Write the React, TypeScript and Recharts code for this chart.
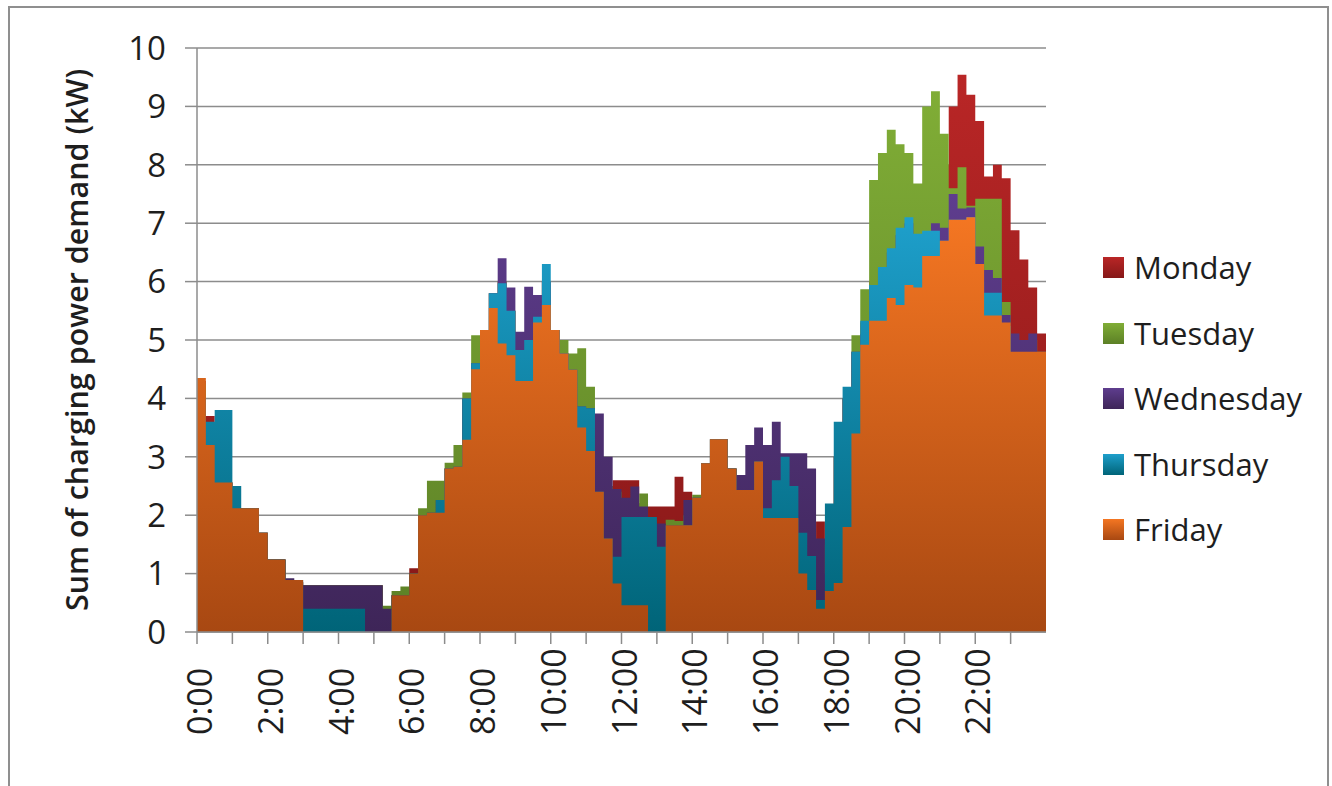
import React from 'react';
import { AreaChart, Area, XAxis, YAxis, CartesianGrid, Legend } from 'recharts';

// 15-minute slots of the day (hours)
const SLOT_HOURS: number[] = Array.from({ length: 96 }, (_, i) => i / 4);

const X_TICK_HOURS = [0, 1, 2, 3, 4, 5, 6, 7, 8, 9, 10, 11, 12, 13, 14, 15, 16, 17, 18, 19, 20, 21, 22, 23];
const X_TICK_LABELS = ['0:00', '2:00', '4:00', '6:00', '8:00', '10:00', '12:00', '14:00', '16:00', '18:00', '20:00', '22:00'];
const Y_TICKS = [0, 1, 2, 3, 4, 5, 6, 7, 8, 9, 10];
const Y_TITLE = 'Sum of charging power demand (kW)';

const MONDAY = [
  4.3, 3.7, 2.56, 2.56, 2.12, 2.12, 2.12, 1.7,
  1.24, 1.24, 0.89, 0.85, 0.8, 0.8, 0.8, 0.8,
  0.8, 0.8, 0.8, 0.8, 0.8, 0.4, 0.63, 0.7,
  1.09, 2.0, 2.04, 2.26, 2.8, 2.83, 4.0, 4.6,
  5.17, 5.8, 6.0, 5.5, 4.8, 5.0, 5.4, 6.0,
  5.17, 4.77, 4.6, 3.86, 3.83, 3.0, 2.5, 2.6,
  2.6, 2.6, 2.2, 2.15, 2.15, 2.15, 2.66, 2.4,
  2.3, 2.89, 3.3, 3.3, 2.8, 2.5, 2.6, 3.0,
  2.5, 2.6, 2.8, 2.5, 2.0, 1.5, 1.89, 1.0,
  3.0, 4.0, 4.8, 5.3, 6.0, 6.5, 7.0, 7.0,
  7.0, 7.0, 7.5, 8.0, 8.0, 9.0, 9.54, 9.2,
  8.75, 7.8, 8.0, 7.77, 6.88, 6.38, 5.9, 5.11,
];

const TUESDAY = [
  4.25, 3.2, 2.56, 2.56, 2.12, 2.12, 2.12, 1.7,
  1.24, 1.24, 0.89, 0.85, 0.8, 0.8, 0.8, 0.8,
  0.8, 0.8, 0.8, 0.8, 0.8, 0.45, 0.7, 0.78,
  1.0, 2.12, 2.59, 2.59, 2.9, 3.2, 4.1, 5.08,
  5.17, 5.8, 6.0, 5.5, 4.8, 5.0, 5.4, 6.0,
  5.17, 5.0, 4.77, 4.86, 4.2, 3.0, 2.5, 2.4,
  2.15, 2.2, 2.37, 1.9, 1.8, 1.92, 1.9, 2.0,
  2.35, 2.89, 3.3, 3.3, 2.8, 2.69, 2.6, 3.0,
  2.5, 2.6, 2.8, 2.5, 2.0, 1.5, 1.5, 1.0,
  3.0, 4.0, 5.08, 5.87, 7.74, 8.2, 8.6, 8.35,
  8.2, 7.68, 9.0, 9.26, 8.53, 7.6, 7.96, 7.3,
  7.42, 7.42, 7.42, 5.65, 5.0, 4.9, 5.0, 4.8,
];

const WEDNESDAY = [
  4.0, 3.2, 2.56, 2.56, 2.12, 2.12, 2.12, 1.7,
  1.24, 1.24, 0.92, 0.85, 0.8, 0.8, 0.8, 0.8,
  0.8, 0.8, 0.8, 0.8, 0.8, 0.4, 0.63, 0.63,
  1.0, 2.0, 2.04, 2.26, 2.8, 2.83, 4.0, 4.6,
  5.17, 5.8, 6.4, 5.9, 5.14, 5.91, 5.77, 6.0,
  5.17, 4.77, 4.49, 3.86, 3.83, 3.74, 3.0, 2.45,
  2.3, 2.49, 2.15, 1.9, 1.86, 1.83, 1.83, 2.26,
  2.3, 2.89, 3.3, 3.3, 2.8, 2.69, 3.2, 3.5,
  3.2, 3.6, 3.06, 3.06, 3.06, 2.8, 1.6, 1.0,
  3.0, 4.0, 4.8, 5.1, 5.9, 6.2, 6.5, 6.8,
  7.0, 6.8, 6.8, 7.0, 6.92, 7.5, 7.25, 7.27,
  6.6, 6.2, 6.06, 5.43, 5.11, 5.0, 5.11, 4.8,
];

const THURSDAY = [
  4.0, 3.6, 3.8, 3.8, 2.5, 2.12, 2.12, 1.7,
  1.24, 1.24, 0.89, 0.89, 0.4, 0.4, 0.4, 0.4,
  0.4, 0.4, 0.4, 0, 0, 0, 0.63, 0.63,
  1.0, 2.0, 2.04, 2.26, 2.8, 2.83, 4.0, 4.6,
  5.17, 5.8, 5.97, 5.5, 4.83, 5.0, 5.4, 6.3,
  5.17, 4.77, 4.49, 3.86, 3.83, 2.4, 1.6, 1.29,
  1.97, 1.97, 1.97, 1.97, 1.46, 1.83, 1.83, 1.83,
  2.3, 2.89, 3.3, 3.3, 2.8, 2.43, 2.43, 2.92,
  2.12, 2.6, 3.0, 2.5, 1.7, 1.3, 0.55, 2.2,
  3.6, 4.2, 4.8, 5.33, 5.94, 6.25, 6.57, 6.92,
  7.1, 6.82, 6.87, 6.87, 6.7, 7.06, 7.06, 7.1,
  6.0, 5.81, 5.81, 5.24, 4.6, 4.7, 4.7, 4.7,
];

const FRIDAY = [
  4.35, 3.2, 2.56, 2.56, 2.12, 2.12, 2.12, 1.7,
  1.24, 1.24, 0.89, 0.89, 0, 0, 0, 0,
  0, 0, 0, 0, 0, 0, 0.63, 0.63,
  1.0, 2.0, 2.04, 2.04, 2.8, 2.83, 3.29, 4.5,
  5.17, 5.55, 4.94, 4.74, 4.3, 4.3, 5.3, 5.6,
  5.17, 4.77, 4.49, 3.5, 3.1, 2.4, 1.6, 0.83,
  0.46, 0.46, 0.46, 0, 0, 1.83, 1.83, 1.83,
  2.3, 2.89, 3.3, 3.3, 2.8, 2.43, 2.43, 2.92,
  1.95, 1.95, 1.95, 1.95, 1.0, 0.72, 0.4, 0.7,
  0.84, 1.8, 3.4, 4.92, 5.33, 5.33, 5.72, 5.6,
  5.94, 5.9, 6.44, 6.44, 6.7, 7.06, 7.06, 7.1,
  6.3, 5.42, 5.42, 5.3, 4.8, 4.8, 4.8, 4.8,
];

const SERIES_NAMES = ['Monday', 'Tuesday', 'Wednesday', 'Thursday', 'Friday'];
const SERIES_VALUES = [MONDAY, TUESDAY, WEDNESDAY, THURSDAY, FRIDAY];

const STYLES: Record<string, { top: string; bottom: string }> = {
  Monday: { top: '#B92626', bottom: '#861818' },
  Tuesday: { top: '#80AD36', bottom: '#5C8026' },
  Wednesday: { top: '#5E3D8E', bottom: '#3E2558' },
  Thursday: { top: '#1E9FCB', bottom: '#006478' },
  Friday: { top: '#F47622', bottom: '#A84812' },
};

const FONT = "'Open Sans', 'DejaVu Sans', sans-serif";
const TEXT = '#1e1e1e';
const GRID = '#8c8c8c';

type Row = { h: number; [k: string]: number };
const DATA: Row[] = SLOT_HOURS.map((h, i) => {
  const row: Row = { h };
  SERIES_NAMES.forEach((n, s) => { row[n] = SERIES_VALUES[s][i]; });
  return row;
});
// closing point so the last 15-minute step reaches 24:00
const closing: Row = { h: 24 };
SERIES_NAMES.forEach((n, s) => { closing[n] = SERIES_VALUES[s][SERIES_VALUES[s].length - 1]; });
DATA.push(closing);

const XTick = (props: any) => {
  const { x, y, payload } = props;
  const hv = payload.value as number;
  if (hv % 2 !== 0) return <g />;
  const label = X_TICK_LABELS[hv / 2];
  const bx = x + 2;
  const by = y + 89;
  return (
    <text x={bx} y={by} transform={`rotate(-90, ${bx}, ${by})`} textAnchor="start" dominantBaseline="central"
      fontSize={34} fontFamily={FONT} fill={TEXT}>{label}</text>
  );
};

const YTitle = (props: any) => {
  const vb = props.viewBox || { x: 0, y: 48, width: 0, height: 584 };
  const cx = 76;
  const cy = vb.y + vb.height / 2;
  return (
    <text x={cx} y={cy} transform={`rotate(-90, ${cx}, ${cy})`} textAnchor="middle" dominantBaseline="central"
      fontSize={30.5} fontWeight={600} fontFamily={FONT} fill={TEXT}>{Y_TITLE}</text>
  );
};

const LegendContent = () => (
  <div style={{ display: 'flex', flexDirection: 'column' }}>
    {SERIES_NAMES.map((n) => (
      <div key={n} style={{ display: 'flex', alignItems: 'center', height: 65.5 }}>
        <div style={{ width: 21, height: 21, background: `linear-gradient(${STYLES[n].top}, ${STYLES[n].bottom})` }} />
        <span style={{ marginLeft: 10, fontSize: 31, fontFamily: FONT, color: TEXT, lineHeight: 1 }}>{n}</span>
      </div>
    ))}
  </div>
);

export default function App() {
  return (
    <div style={{ position: 'absolute', left: 0, top: 0, width: 1332, height: 786, background: '#fff', overflow: 'hidden' }}>
      <div style={{ position: 'absolute', left: 8, top: 6, width: 1321, height: 830, border: '2px solid #8f8f8f', boxSizing: 'border-box' }} />
      <div style={{ position: 'absolute', left: 0, top: 0 }}>
        <AreaChart width={1332} height={786} data={DATA} margin={{ top: 48, right: 286, bottom: 44, left: 137 }}>
          <defs>
            {SERIES_NAMES.map((n) => (
              <linearGradient key={n} id={`grad-${n}`} x1="0" y1="0" x2="0" y2="1">
                <stop offset="0%" stopColor={STYLES[n].top} />
                <stop offset="100%" stopColor={STYLES[n].bottom} />
              </linearGradient>
            ))}
          </defs>
          <CartesianGrid vertical={false} stroke={GRID} strokeWidth={1.5} />
          <XAxis dataKey="h" type="number" domain={[0, 24]} ticks={X_TICK_HOURS} interval={0} height={110}
            tickSize={12} tick={<XTick />} axisLine={{ stroke: GRID, strokeWidth: 1.5 }} tickLine={{ stroke: GRID, strokeWidth: 1.5 }} />
          <YAxis type="number" domain={[0, 10]} ticks={Y_TICKS} interval={0} width={60} tickSize={12} tickMargin={19}
            tick={{ fontSize: 33, fontFamily: FONT, fill: TEXT }} axisLine={{ stroke: GRID, strokeWidth: 1.5 }}
            tickLine={{ stroke: GRID, strokeWidth: 1.5 }} label={{ content: (p: any) => <YTitle {...p} /> }} />
          {SERIES_NAMES.map((n) => (
            <Area key={n} type="stepAfter" dataKey={n} name={n} stroke="none" fill={`url(#grad-${n})`} fillOpacity={1}
              isAnimationActive={false} dot={false} activeDot={false} />
          ))}
          <Legend layout="horizontal" verticalAlign="middle" align="center" content={<LegendContent />}
            wrapperStyle={{ left: 1103, top: 235, right: 'auto', bottom: 'auto', width: 220, height: 330 }} />
        </AreaChart>
      </div>
    </div>
  );
}
